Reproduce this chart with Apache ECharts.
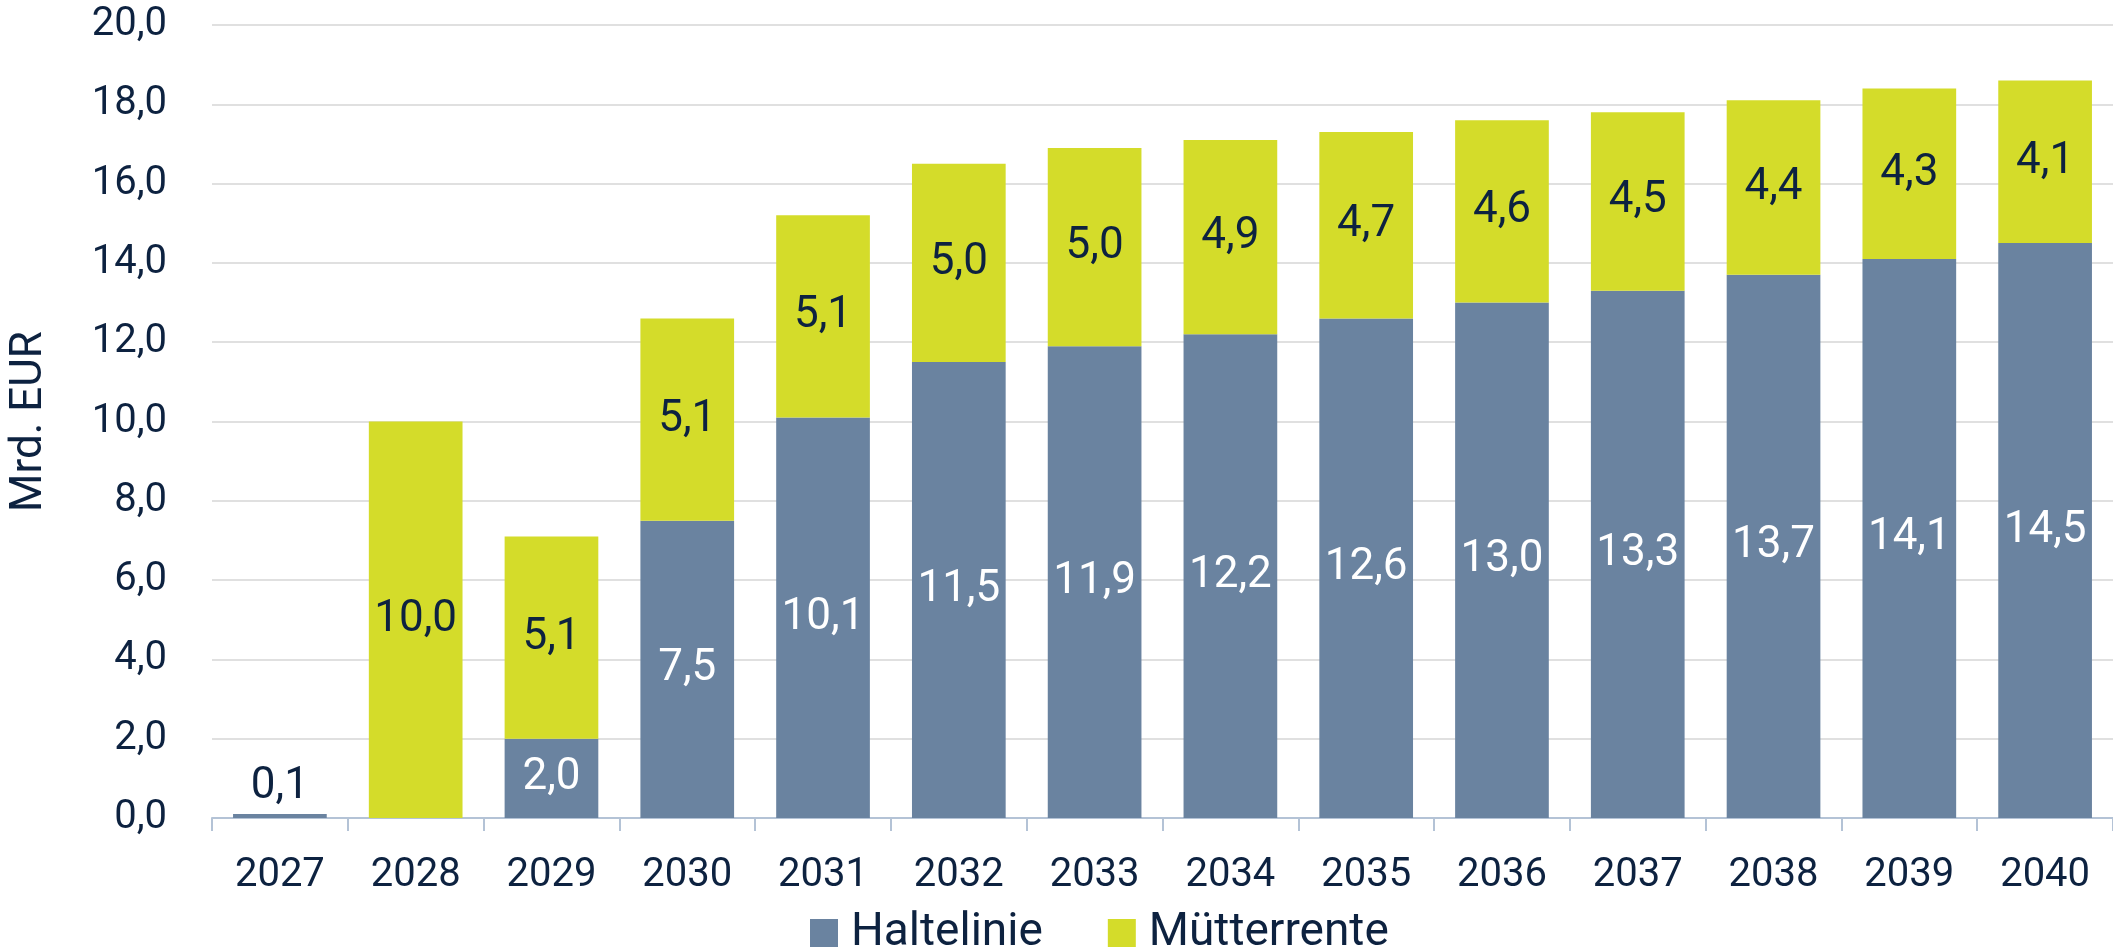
<!DOCTYPE html>
<html>
<head>
	<meta charset="utf-8">
	<title>Haltelinie und Mütterrente</title>
	<script type="text/javascript" src="https://cdn.jsdelivr.net/npm/echarts@6/dist/echarts.min.js"></script>
	<style>
		html, body { margin: 0; padding: 0; background: #fff; }
	</style>
</head>
<body>
<div id="main" style="width: 2113px; height: 950px"></div>

<script type="text/javascript">
var years = ['2027', '2028', '2029', '2030', '2031', '2032', '2033', '2034', '2035', '2036', '2037', '2038', '2039', '2040'];
var haltelinie = [0.1, null, 2.0, 7.5, 10.1, 11.5, 11.9, 12.2, 12.6, 13.0, 13.3, 13.7, 14.1, 14.5];
var muetterrente = [null, 10.0, 5.1, 5.1, 5.1, 5.0, 5.0, 4.9, 4.7, 4.6, 4.5, 4.4, 4.3, 4.1];

var dark = '#0d2240';
var fontName = 'Roboto';

function fmt(v) {
    return v.toFixed(1).replace('.', ',');
}

// kleine Werte (0,1) stehen über dem Balken
var halteData = haltelinie.map(function (v) {
    if (v !== null && v < 1) {
        return { value: v, label: { position: 'top', color: dark } };
    }
    return v;
});

var myChart = echarts.init(document.getElementById('main'));

option = {
    animation: false,
    textStyle: { fontFamily: fontName },
    grid: {
        left: 212,
        right: 0,
        top: 25,
        bottom: 132,
        outerBoundsMode: 'none'
    },
    legend: {
        bottom: -11,
        left: 805,
        icon: 'rect',
        itemWidth: 28,
        itemHeight: 28,
        itemGap: 65,
        textStyle: { fontSize: 46, color: dark, fontFamily: fontName, padding: [0, 0, 0, 8] },
        data: ['Haltelinie', 'Mütterrente']
    },
    xAxis: {
        type: 'category',
        data: years,
        axisLine: { lineStyle: { color: '#b4c3d6', width: 2 } },
        axisTick: { show: true, length: 13, lineStyle: { color: '#b4c3d6', width: 2 } },
        axisLabel: { fontSize: 40, color: dark, margin: 38 }
    },
    yAxis: {
        type: 'value',
        min: 0,
        max: 20,
        interval: 2,
        name: 'Mrd. EUR',
        nameLocation: 'middle',
        nameGap: 160,
        nameTextStyle: { fontSize: 44, color: dark },
        axisLine: { show: false },
        axisTick: { show: false },
        splitLine: { lineStyle: { color: '#e0e0e0', width: 2 } },
        axisLabel: {
            fontSize: 40,
            color: dark,
            margin: 45,
            formatter: function (v) { return fmt(v); }
        }
    },
    series: [
        {
            name: 'Haltelinie',
            type: 'bar',
            stack: 'gesamt',
            barWidth: '69%',
            itemStyle: { color: '#6a83a0' },
            label: {
                show: true,
                position: 'inside',
                color: '#ffffff',
                fontSize: 44,
                formatter: function (p) { return fmt(p.value); }
            },
            data: halteData
        },
        {
            name: 'Mütterrente',
            type: 'bar',
            stack: 'gesamt',
            barWidth: '69%',
            itemStyle: { color: '#d4dc2a' },
            label: {
                show: true,
                position: 'inside',
                color: dark,
                fontSize: 44,
                formatter: function (p) { return fmt(p.value); }
            },
            data: muetterrente
        }
    ]
};

myChart.setOption(option);
</script>
</body>
</html>
